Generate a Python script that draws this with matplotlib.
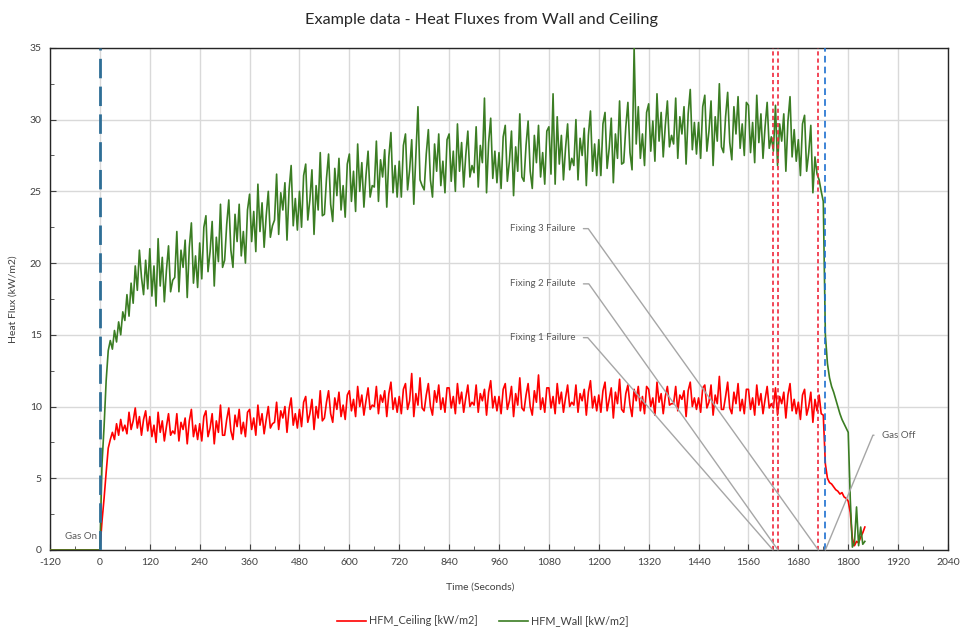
import numpy as np
import matplotlib
matplotlib.use("Agg")
import matplotlib.pyplot as plt
from matplotlib.ticker import MultipleLocator

# ---------------- data ----------------
sample_step_s = 5
start_time_s = -120

# HFM_Wall [kW/m2], one value every 5 s from -120 s to 1840 s
wall_flux = [
    0.0, 0.0, 0.0, 0.0, 0.0, 0.0, 0.0, 0.0, 0.0, 0.0, 0.0, 0.0,
    0.0, 0.0, 0.0, 0.0, 0.0, 0.0, 0.0, 0.0, 0.0, 0.0, 0.0, 0.0,
    0.0, 6.0, 8.6, 11.8, 13.9, 14.6, 14.0, 15.3, 14.5, 15.9, 15.0, 16.6,
    16.0, 17.8, 16.3, 18.6, 17.2, 19.8, 18.1, 20.9, 19.0, 17.8, 20.2, 18.2,
    21.0, 17.7, 19.8, 17.0, 21.7, 18.4, 20.4, 17.3, 19.5, 21.2, 18.0, 18.8,
    19.0, 22.2, 18.0, 20.9, 19.7, 21.6, 17.6, 21.1, 22.8, 18.6, 20.5, 18.3,
    21.4, 18.9, 22.5, 23.3, 19.4, 20.8, 22.9, 18.4, 21.8, 20.1, 24.1, 19.7,
    20.2, 22.7, 24.4, 20.9, 19.7, 23.4, 21.5, 24.1, 20.5, 22.2, 20.0, 23.7,
    24.8, 21.5, 23.6, 20.8, 25.5, 22.2, 24.2, 21.1, 23.3, 25.0, 21.8, 22.6,
    23.0, 26.2, 22.0, 24.9, 23.7, 25.6, 21.6, 25.1, 26.8, 22.6, 24.5, 22.3,
    25.0, 22.5, 26.1, 26.9, 23.0, 24.4, 26.5, 22.0, 25.4, 23.7, 27.7, 23.3,
    23.4, 25.9, 27.6, 24.1, 22.9, 26.6, 24.7, 27.3, 23.7, 25.4, 23.2, 26.9,
    27.6, 24.3, 26.4, 23.6, 28.3, 25.0, 27.0, 23.9, 26.1, 27.8, 24.6, 25.4,
    25.3, 28.5, 24.3, 27.2, 26.0, 27.9, 23.9, 27.4, 29.1, 24.9, 26.8, 24.6,
    27.1, 24.6, 28.2, 29.0, 25.1, 26.5, 28.6, 24.1, 27.5, 30.9, 25.8, 25.4,
    25.1, 27.6, 29.3, 25.8, 24.6, 28.3, 26.4, 29.0, 25.4, 27.1, 24.9, 28.6,
    29.0, 25.7, 27.8, 25.0, 29.7, 26.4, 28.4, 25.3, 27.5, 29.2, 26.0, 26.8,
    26.3, 29.5, 25.3, 28.2, 27.0, 31.5, 24.9, 28.4, 30.1, 25.9, 27.8, 25.6,
    27.7, 25.2, 28.8, 29.6, 25.7, 27.1, 29.2, 24.7, 28.1, 26.4, 30.4, 26.0,
    25.7, 28.2, 29.9, 26.4, 25.2, 28.9, 27.0, 29.6, 26.0, 27.7, 25.5, 29.2,
    29.5, 26.2, 31.8, 25.5, 30.2, 26.9, 28.9, 25.8, 28.0, 29.7, 26.5, 27.3,
    26.8, 30.0, 25.8, 28.7, 27.5, 29.4, 25.4, 28.9, 30.6, 26.4, 28.3, 26.1,
    28.6, 26.1, 29.7, 30.5, 26.6, 28.0, 30.1, 25.6, 29.0, 27.3, 31.3, 26.9,
    27.0, 29.5, 31.2, 27.7, 26.5, 35.0, 28.3, 30.9, 27.3, 29.0, 26.8, 30.5,
    31.1, 27.8, 29.9, 27.1, 31.8, 28.5, 30.5, 27.4, 29.6, 31.3, 28.1, 28.9,
    28.3, 31.5, 27.3, 30.2, 29.0, 30.9, 26.9, 30.4, 32.1, 27.9, 29.8, 27.6,
    29.8, 27.3, 30.9, 31.7, 27.8, 29.2, 31.3, 26.8, 30.2, 28.5, 32.5, 28.1,
    27.7, 30.2, 31.9, 28.4, 27.2, 30.9, 29.0, 31.6, 28.0, 29.7, 27.5, 31.2,
    31.0, 27.7, 29.8, 27.0, 31.7, 28.4, 30.4, 27.3, 29.5, 31.2, 28.0, 28.8,
    27.8, 31.0, 26.8, 29.7, 28.5, 30.4, 26.4, 29.9, 31.6, 27.4, 29.3, 27.1,
    28.6, 26.1, 29.7, 30.3, 26.4, 27.7, 29.6, 24.9, 27.4, 26.2, 25.8, 25.0,
    24.3, 15.0, 13.0, 12.0, 11.4, 11.0, 10.5, 10.0, 9.5, 9.1, 8.8, 8.5,
    8.2, 3.5, 0.2, 0.5, 3.0, 0.3, 1.6, 0.4, 0.6,
]

# HFM_Ceiling [kW/m2], one value every 5 s from -120 s to 1840 s
ceiling_flux = [
    0.0, 0.0, 0.0, 0.0, 0.0, 0.0, 0.0, 0.0, 0.0, 0.0, 0.0, 0.0,
    0.0, 0.0, 0.0, 0.0, 0.0, 0.0, 0.0, 0.0, 0.0, 0.0, 0.0, 0.0,
    0.0, 2.0, 3.6, 5.4, 7.1, 7.7, 8.2, 7.7, 8.8, 8.0, 9.1, 8.3,
    8.7, 8.1, 9.6, 8.4, 9.0, 9.9, 8.5, 9.3, 8.0, 9.1, 9.7, 8.3,
    9.3, 7.9, 8.7, 7.5, 9.6, 8.2, 9.0, 7.6, 8.6, 9.5, 8.0, 8.3,
    8.1, 9.5, 7.6, 8.9, 8.4, 9.2, 7.4, 9.0, 9.8, 7.9, 8.7, 7.7,
    8.8, 7.6, 9.3, 9.7, 7.9, 8.5, 9.5, 7.4, 9.0, 8.2, 10.1, 8.0,
    8.0, 9.1, 9.9, 8.3, 7.7, 9.4, 8.6, 9.8, 8.1, 8.9, 7.9, 9.6,
    9.8, 8.4, 9.2, 8.0, 10.1, 8.7, 9.5, 8.1, 9.1, 10.0, 8.5, 8.8,
    8.9, 10.3, 8.4, 9.7, 9.2, 10.0, 8.2, 9.8, 10.6, 8.7, 9.5, 8.5,
    9.8, 8.6, 10.3, 10.7, 8.9, 9.5, 10.5, 8.4, 10.0, 9.2, 11.1, 9.0,
    9.2, 10.3, 11.1, 9.5, 8.9, 10.6, 9.8, 11.0, 9.3, 10.1, 9.1, 10.8,
    11.1, 9.7, 10.5, 9.3, 11.4, 10.0, 10.8, 9.4, 10.4, 11.3, 9.8, 10.1,
    10.0, 11.4, 9.5, 10.8, 10.3, 11.1, 9.3, 10.9, 11.7, 9.8, 10.6, 9.6,
    10.7, 9.5, 11.2, 11.6, 9.8, 10.4, 12.3, 9.3, 10.9, 10.1, 12.0, 9.9,
    9.7, 10.8, 11.6, 10.0, 9.4, 11.1, 10.3, 11.5, 9.8, 10.6, 9.6, 11.3,
    11.3, 9.9, 10.7, 9.5, 11.6, 10.2, 11.0, 9.6, 10.6, 11.5, 10.0, 10.3,
    10.1, 11.5, 9.6, 10.9, 10.4, 11.2, 9.4, 11.0, 11.8, 9.9, 10.7, 9.7,
    10.7, 9.5, 11.2, 11.6, 9.8, 10.4, 11.4, 9.3, 10.9, 10.1, 12.0, 9.9,
    9.7, 10.8, 11.6, 10.0, 9.4, 11.1, 10.3, 12.2, 9.8, 10.6, 9.6, 11.3,
    11.3, 9.9, 10.7, 9.5, 11.6, 10.2, 11.0, 9.6, 10.6, 11.5, 10.0, 10.3,
    10.1, 11.5, 9.6, 10.9, 10.4, 11.2, 9.4, 11.0, 11.8, 9.9, 10.7, 9.7,
    10.8, 9.6, 11.1, 11.7, 9.7, 10.5, 11.3, 9.2, 11.0, 10.2, 11.9, 9.8,
    9.6, 10.9, 11.5, 10.1, 9.3, 11.2, 10.4, 11.4, 9.7, 10.7, 9.5, 11.4,
    11.2, 10.0, 10.6, 9.4, 11.7, 10.3, 10.9, 9.5, 10.7, 11.4, 10.1, 10.2,
    10.2, 11.4, 9.7, 10.8, 10.5, 11.1, 9.3, 11.1, 11.7, 10.0, 10.6, 9.8,
    10.6, 9.6, 11.3, 11.5, 9.9, 10.3, 11.5, 9.4, 10.8, 10.2, 12.1, 9.8,
    9.8, 10.7, 11.7, 9.9, 9.5, 11.0, 10.2, 11.6, 9.7, 10.5, 9.5, 11.2,
    11.2, 9.8, 10.6, 9.4, 11.5, 10.1, 10.9, 9.5, 10.5, 11.4, 9.9, 10.2,
    9.9, 11.3, 9.4, 10.7, 10.2, 11.0, 9.2, 10.8, 11.6, 9.7, 10.5, 9.5,
    10.3, 9.1, 10.8, 11.2, 9.4, 10.0, 11.0, 8.9, 10.5, 9.7, 10.8, 9.5,
    9.4, 6.0, 5.0, 4.7, 4.6, 4.4, 4.2, 4.1, 3.9, 4.0, 3.7, 3.6,
    3.4, 2.6, 0.8, 0.3, 0.6, 0.5, 0.9, 1.2, 1.6,
]

series_names = ["HFM_Ceiling [kW/m2]", "HFM_Wall [kW/m2]"]

gas_on_time = 0
gas_off_time = 1745
fixing_times = [1619, 1631, 1728]
fixing_labels = ["Fixing 1 Failure", "Fixing 2 Failute", "Fixing 3 Failure"]
fixing_label_y = [14.8, 18.55, 22.4]
fixing_leader_angle = [131.1, 125.4, 125.6]
fixing_label_x = 1143
gas_off_label = "Gas Off"
gas_off_label_xy = (1882, 8.0)
gas_on_label = "Gas On"
gas_on_label_xy = (-6, 0.95)

x_ticks = list(range(-120, 2041, 120))
y_ticks = list(range(0, 36, 5))

# ---------------- figure ----------------
FONT = ["Lato", "DejaVu Sans"]
plt.rcParams["font.family"] = FONT
plt.rcParams["axes.unicode_minus"] = False

fig = plt.figure(figsize=(9.64, 6.30), dpi=100)
ax = fig.add_axes([0.0519, 0.127, 0.9315, 0.797])

t_wall = start_time_s + sample_step_s * np.arange(len(wall_flux))
t_ceil = start_time_s + sample_step_s * np.arange(len(ceiling_flux))

red = "#FF0000"
green = "#3B7D23"
ax.plot(t_ceil, ceiling_flux, color=red, lw=1.2, label=series_names[0], zorder=3)
ax.plot(t_wall, wall_flux, color=green, lw=1.2, label=series_names[1], zorder=4)

# event lines
ax.axvline(gas_on_time, color="#2E6E96", lw=2.0, dashes=(7, 3), zorder=5)
ax.axvline(gas_off_time, color="#1C6FD0", lw=1.2, dashes=(4, 2.5), zorder=5)
for ft in fixing_times:
    ax.axvline(ft, color="#F0283C", lw=1.2, dashes=(2.5, 1.8), zorder=5)

# annotations
grey_line = "#A6A6A6"
grey_text = "#595959"
for lab, ly, ft, ang in zip(fixing_labels, fixing_label_y, fixing_times,
                            fixing_leader_angle):
    ax.annotate(lab, xy=(ft, 0), xytext=(fixing_label_x, ly),
                textcoords="data", ha="right", va="center",
                fontsize=7, color=grey_text, zorder=6,
                arrowprops=dict(arrowstyle="-", color=grey_line, lw=1.0,
                                shrinkA=4, shrinkB=0, relpos=(1, 0.5),
                                connectionstyle=f"angle,angleA=0,angleB={ang},rad=0"))
ax.annotate(gas_off_label, xy=(gas_off_time, 0), xytext=gas_off_label_xy,
            textcoords="data", ha="left", va="center", fontsize=7,
            color=grey_text, zorder=6,
            arrowprops=dict(arrowstyle="-", color=grey_line, lw=1.0,
                            shrinkA=4, shrinkB=0, relpos=(0, 0.5),
                            connectionstyle="angle,angleA=180,angleB=67.5,rad=0"))
ax.text(gas_on_label_xy[0], gas_on_label_xy[1], gas_on_label, ha="right",
        va="center", fontsize=7, color=grey_text, zorder=6)

# axes
ax.set_xlim(x_ticks[0], x_ticks[-1])
ax.set_ylim(y_ticks[0], y_ticks[-1])
ax.set_xticks(x_ticks)
ax.set_yticks(y_ticks)
ax.xaxis.set_minor_locator(MultipleLocator(60))
ax.yaxis.set_minor_locator(MultipleLocator(2.5))
ax.grid(True, which="major", color="#D9D9D9", lw=1.0, zorder=0)
ax.set_axisbelow(True)
ax.tick_params(which="both", direction="in", colors="#404040",
               labelcolor="#404040", labelsize=7.5)
ax.tick_params(which="major", length=4, pad=6)
ax.tick_params(which="minor", length=3)
for s in ax.spines.values():
    s.set_color("#262626")
    s.set_linewidth(1.0)

ax.set_xlabel("Time (Seconds)", fontsize=7.5, color="#404040", labelpad=12)
ax.xaxis.set_label_coords((480 - 50) / 898, -0.064)
ax.set_ylabel("Heat Flux (kW/m2)", fontsize=7.5, color="#404040")
ax.yaxis.set_label_coords(-(50 - 18) / 898, 0.5)

fig.text(0.499, 1 - 20 / 630, "Example data - Heat Fluxes from Wall and Ceiling",
         ha="center", va="center", fontsize=11.7, color="#262626")

fig.legend(loc="center", bbox_to_anchor=(0.501, 1 - 621 / 630), ncol=2,
           frameon=False, fontsize=7.8, handlelength=2.7, columnspacing=1.9,
           handletextpad=0.3, labelcolor="#404040")

fig.savefig("out.png", dpi=100)
